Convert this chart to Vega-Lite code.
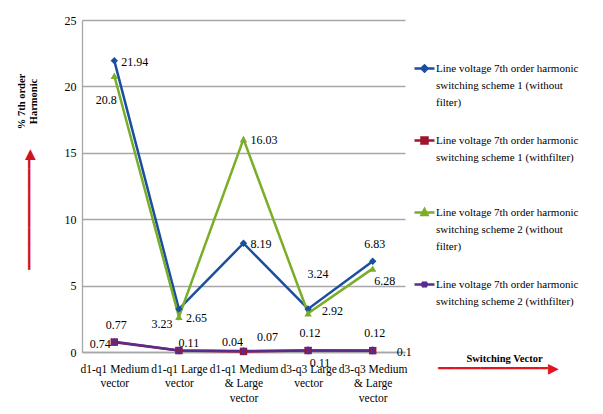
{
  "$schema": "https://vega.github.io/schema/vega-lite/v6.json",
  "width": 323,
  "height": 332,
  "autosize": {"type": "none"},
  "padding": {"left": 82, "top": 20, "right": 198, "bottom": 62},
  "background": "white",
  "config": {
    "view": {"stroke": null},
    "font": "Liberation Serif",
    "text": {"font": "Liberation Serif", "fontSize": 12, "color": "black"}
  },
  "data": {
    "values": [
      {"cat": "d1-q1 Medium vector", "cid": 1, "series": "Line voltage 7th order harmonic switching scheme 1 (without filter)", "sid": 1, "value": 21.94},
      {"cat": "d1-q1 Large vector", "cid": 2, "series": "Line voltage 7th order harmonic switching scheme 1 (without filter)", "sid": 1, "value": 3.23},
      {"cat": "d1-q1 Medium & Large vector", "cid": 3, "series": "Line voltage 7th order harmonic switching scheme 1 (without filter)", "sid": 1, "value": 8.19},
      {"cat": "d3-q3 Large vector", "cid": 4, "series": "Line voltage 7th order harmonic switching scheme 1 (without filter)", "sid": 1, "value": 3.24},
      {"cat": "d3-q3 Medium & Large vector", "cid": 5, "series": "Line voltage 7th order harmonic switching scheme 1 (without filter)", "sid": 1, "value": 6.83},
      {"cat": "d1-q1 Medium vector", "cid": 1, "series": "Line voltage 7th order harmonic switching scheme 1 (withfilter)", "sid": 2, "value": 0.74},
      {"cat": "d1-q1 Large vector", "cid": 2, "series": "Line voltage 7th order harmonic switching scheme 1 (withfilter)", "sid": 2, "value": 0.11},
      {"cat": "d1-q1 Medium & Large vector", "cid": 3, "series": "Line voltage 7th order harmonic switching scheme 1 (withfilter)", "sid": 2, "value": 0.04},
      {"cat": "d3-q3 Large vector", "cid": 4, "series": "Line voltage 7th order harmonic switching scheme 1 (withfilter)", "sid": 2, "value": 0.11},
      {"cat": "d3-q3 Medium & Large vector", "cid": 5, "series": "Line voltage 7th order harmonic switching scheme 1 (withfilter)", "sid": 2, "value": 0.1},
      {"cat": "d1-q1 Medium vector", "cid": 1, "series": "Line voltage 7th order harmonic switching scheme 2 (without filter)", "sid": 3, "value": 20.8},
      {"cat": "d1-q1 Large vector", "cid": 2, "series": "Line voltage 7th order harmonic switching scheme 2 (without filter)", "sid": 3, "value": 2.65},
      {"cat": "d1-q1 Medium & Large vector", "cid": 3, "series": "Line voltage 7th order harmonic switching scheme 2 (without filter)", "sid": 3, "value": 16.03},
      {"cat": "d3-q3 Large vector", "cid": 4, "series": "Line voltage 7th order harmonic switching scheme 2 (without filter)", "sid": 3, "value": 2.92},
      {"cat": "d3-q3 Medium & Large vector", "cid": 5, "series": "Line voltage 7th order harmonic switching scheme 2 (without filter)", "sid": 3, "value": 6.28},
      {"cat": "d1-q1 Medium vector", "cid": 1, "series": "Line voltage 7th order harmonic switching scheme 2 (withfilter)", "sid": 4, "value": 0.77},
      {"cat": "d1-q1 Large vector", "cid": 2, "series": "Line voltage 7th order harmonic switching scheme 2 (withfilter)", "sid": 4, "value": 0.11},
      {"cat": "d1-q1 Medium & Large vector", "cid": 3, "series": "Line voltage 7th order harmonic switching scheme 2 (withfilter)", "sid": 4, "value": 0.07},
      {"cat": "d3-q3 Large vector", "cid": 4, "series": "Line voltage 7th order harmonic switching scheme 2 (withfilter)", "sid": 4, "value": 0.12},
      {"cat": "d3-q3 Medium & Large vector", "cid": 5, "series": "Line voltage 7th order harmonic switching scheme 2 (withfilter)", "sid": 4, "value": 0.12}
    ]
  },
  "layer": [
    {
      "encoding": {
        "x": {
          "field": "cat", "type": "nominal", "sort": null,
          "axis": {
            "title": "Switching Vector", "titleX": 422, "titleY": 6, "titleAlign": "center", "titleBaseline": "middle",
            "titleFont": "Liberation Serif", "titleFontSize": 10.5, "titleFontWeight": "bold", "titleColor": "black",
            "labelAngle": 0, "labelFont": "Liberation Serif", "labelFontSize": 11.5, "labelColor": "black",
            "labelLineHeight": 14.5, "labelBaseline": "top", "labelPadding": 11, "labelOverlap": false,
            "labelExpr": "split(replace(replace(datum.label,' vector','|vector'),' & ','|& '),'|')",
            "ticks": false, "domainColor": "#a6a6a6", "domainWidth": 1.3, "grid": false
          }
        },
        "y": {
          "field": "value", "type": "quantitative",
          "scale": {"domain": [0, 25], "nice": false, "zero": true},
          "axis": {
            "title": ["% 7th order", "Harmonic"], "titleX": -61, "titleY": 81, "titleAngle": -90,
            "titleAlign": "center", "titleBaseline": "middle", "titleFont": "Liberation Serif",
            "titleFontSize": 10.5, "titleFontWeight": "bold", "titleLineHeight": 12, "titleColor": "black",
            "values": [0, 5, 10, 15, 20, 25], "ticks": false, "labelPadding": 6,
            "labelFont": "Liberation Serif", "labelFontSize": 12, "labelColor": "black",
            "gridColor": "#a6a6a6", "gridWidth": 1.3, "domainColor": "#a6a6a6", "domainWidth": 1.3
          }
        }
      },
      "layer": [
        {
          "mark": {"type": "line", "strokeWidth": 2.5},
          "encoding": {
            "color": {
              "field": "series", "type": "nominal",
              "scale": {
                "domain": [
                  "Line voltage 7th order harmonic switching scheme 1 (without filter)",
                  "Line voltage 7th order harmonic switching scheme 1 (withfilter)",
                  "Line voltage 7th order harmonic switching scheme 2 (without filter)",
                  "Line voltage 7th order harmonic switching scheme 2 (withfilter)"
                ],
                "range": ["#1a4e9e", "#9e1530", "#7aad28", "#5a2d8c"]
              },
              "legend": {
                "orient": "none", "legendX": 331, "legendY": 37, "title": null,
                "labelFont": "Liberation Serif", "labelFontSize": 11, "labelColor": "black", "labelLimit": 300,
                "symbolType": "stroke", "symbolSize": 400, "symbolStrokeWidth": 2.5,
                "rowPadding": 21, "labelOffset": 0,
                "labelExpr": "indexof(datum.label,'without') >= 0 ? split(replace(replace(datum.label,'harmonic ','harmonic|'),'without ','without|'),'|') : [substring(datum.label,0,31), substring(datum.label,32), ' ']",
                "encode": {
                  "labels": {"update": {"lineHeight": {"value": 17}}},
                  "symbols": {
                    "update": {
                      "shape": {"signal": "indexof(datum.value,'1 (without')>=0 ? 'M-1,0H1M-0.3,0L0,-0.3L0.3,0L0,0.3Z' : indexof(datum.value,'1 (with')>=0 ? 'M-1,0H1M-0.3,-0.3H0.3V0.3H-0.3Z' : indexof(datum.value,'2 (without')>=0 ? 'M-1,0H1M-0.3,0.25L0,-0.32L0.3,0.25Z' : 'M-1,0H1M-0.25,-0.25L0.25,0.25M-0.25,0.25L0.25,-0.25M0,-0.3V0.3'"},
                      "fill": {"signal": "scale('color', datum.value)"},
                      "strokeWidth": {"value": 2.5}
                    }
                  }
                }
              }
            }
          }
        },
        {
          "transform": [{"filter": "datum.sid == 1"}],
          "mark": {"type": "point", "filled": true, "opacity": 1, "size": 55, "shape": "diamond"},
          "encoding": {"color": {"field": "series", "type": "nominal"}}
        },
        {
          "transform": [{"filter": "datum.sid == 2"}],
          "mark": {"type": "point", "filled": true, "opacity": 1, "size": 55, "shape": "square"},
          "encoding": {"color": {"field": "series", "type": "nominal"}}
        },
        {
          "transform": [{"filter": "datum.sid == 3"}],
          "mark": {"type": "point", "filled": true, "opacity": 1, "size": 55, "shape": "triangle-up"},
          "encoding": {"color": {"field": "series", "type": "nominal"}}
        },
        {
          "transform": [{"filter": "datum.sid == 4"}],
          "mark": {"type": "point", "filled": false, "opacity": 1, "size": 40, "strokeWidth": 1.5, "shape": "M-1,-1L1,1M-1,1L1,-1M0,-1.2V1.2"},
          "encoding": {"color": {"field": "series", "type": "nominal"}}
        },
        {
          "transform": [{"filter": "indexof(['1-1','3-2','3-3','1-3'], datum.sid + '-' + datum.cid) >= 0"}],
          "mark": {"type": "text", "align": "left", "baseline": "middle", "dx": 7, "dy": 1},
          "encoding": {"text": {"field": "value", "type": "quantitative", "format": "~g"}}
        },
        {
          "transform": [{"filter": "indexof(['4-1','4-4','4-5','1-5'], datum.sid + '-' + datum.cid) >= 0"}],
          "mark": {"type": "text", "align": "center", "baseline": "middle", "dx": 2, "dy": -17},
          "encoding": {"text": {"field": "value", "type": "quantitative", "format": "~g"}}
        },
        {
          "transform": [{"filter": "datum.sid == 3 && datum.cid == 1"}],
          "mark": {"type": "text", "align": "center", "baseline": "middle", "dx": -8, "dy": 24},
          "encoding": {"text": {"field": "value", "type": "quantitative", "format": "~g"}}
        },
        {
          "transform": [{"filter": "datum.sid == 2 && datum.cid == 1"}],
          "mark": {"type": "text", "align": "center", "baseline": "middle", "dx": -14, "dy": 2},
          "encoding": {"text": {"field": "value", "type": "quantitative", "format": "~g"}}
        },
        {
          "transform": [{"filter": "datum.sid == 1 && datum.cid == 2"}],
          "mark": {"type": "text", "align": "center", "baseline": "middle", "dx": -17, "dy": 15},
          "encoding": {"text": {"field": "value", "type": "quantitative", "format": "~g"}}
        },
        {
          "transform": [{"filter": "datum.sid == 2 && datum.cid == 2"}],
          "mark": {"type": "text", "align": "center", "baseline": "middle", "dx": 10, "dy": -8},
          "encoding": {"text": {"field": "value", "type": "quantitative", "format": "~g"}}
        },
        {
          "transform": [{"filter": "datum.sid == 2 && datum.cid == 3"}],
          "mark": {"type": "text", "align": "center", "baseline": "middle", "dx": -11, "dy": -9},
          "encoding": {"text": {"field": "value", "type": "quantitative", "format": "~g"}}
        },
        {
          "transform": [{"filter": "datum.sid == 4 && datum.cid == 3"}],
          "mark": {"type": "text", "align": "center", "baseline": "middle", "dx": 24, "dy": -14},
          "encoding": {"text": {"field": "value", "type": "quantitative", "format": "~g"}}
        },
        {
          "transform": [{"filter": "datum.sid == 1 && datum.cid == 4"}],
          "mark": {"type": "text", "align": "center", "baseline": "middle", "dx": 10, "dy": -35},
          "encoding": {"text": {"field": "value", "type": "quantitative", "format": "~g"}}
        },
        {
          "transform": [{"filter": "datum.sid == 3 && datum.cid == 4"}],
          "mark": {"type": "text", "align": "left", "baseline": "middle", "dx": 14, "dy": -2},
          "encoding": {"text": {"field": "value", "type": "quantitative", "format": "~g"}}
        },
        {
          "transform": [{"filter": "indexof(['2-4','3-5'], datum.sid + '-' + datum.cid) >= 0"}],
          "mark": {"type": "text", "align": "center", "baseline": "middle", "dx": 12, "dy": 12},
          "encoding": {"text": {"field": "value", "type": "quantitative", "format": "~g"}}
        },
        {
          "transform": [{"filter": "datum.sid == 2 && datum.cid == 5"}],
          "mark": {"type": "text", "align": "left", "baseline": "middle", "dx": 24, "dy": 1},
          "encoding": {"text": {"field": "value", "type": "quantitative", "format": "~g"}}
        }
      ]
    },
    {
      "mark": {"type": "point", "opacity": 0},
      "encoding": {
        "x": {
          "field": "cat", "type": "nominal", "sort": null,
          "axis": {
            "orient": "bottom", "title": "━━━━━━━━━━━━━▶", "titleColor": "#e3141c", "titleFont": "DejaVu Sans",
            "titleFontSize": 14, "titleFontWeight": "normal", "titleX": 416, "titleY": 16,
            "titleAlign": "center", "titleBaseline": "middle",
            "labels": false, "ticks": false, "domain": false, "grid": false
          }
        },
        "y": {
          "field": "value", "type": "quantitative",
          "scale": {"domain": [0, 25], "nice": false, "zero": true},
          "axis": {
            "orient": "left", "title": "━━━━━━━━━━━━━▶", "titleColor": "#d0121a", "titleFont": "DejaVu Sans",
            "titleFontSize": 14, "titleFontWeight": "normal", "titleX": -53, "titleY": 189, "titleAngle": -90,
            "titleAlign": "center", "titleBaseline": "middle",
            "labels": false, "ticks": false, "domain": false, "grid": false
          }
        }
      }
    }
  ],
  "resolve": {"axis": {"x": "independent", "y": "independent"}}
}
